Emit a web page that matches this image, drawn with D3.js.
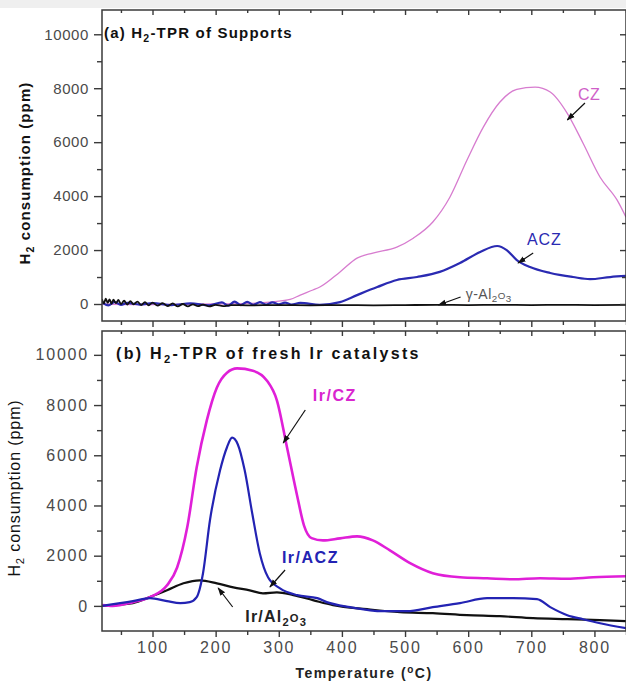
<!DOCTYPE html>
<html>
<head>
<meta charset="utf-8">
<script src="https://cdn.jsdelivr.net/npm/d3@7"></script>
<style>
body{margin:0;background:#fff}
svg{display:block;font-family:Arial,"Liberation Sans",sans-serif}
</style>
</head>
<body>
<div id="chart"></div>
<script>
"use strict";
// (a) supports : [temperature °C, H2 ppm]
const czData = [[20,0],[100,-20],[200,0],[250,20],[270,40],[290,80],[318,170],[334,330],[354,520],[365,630],[397,1190],[424,1700],[449,1890],[487,2110],[513,2440],[544,3040],[571,3960],[598,5330],[624,6560],[650,7480],[677,7960],[706,8040],[730,7860],[757,7070],[782,5960],[809,4700],[836,3850],[850,3220]];
const aczData = [[20,60],[30,-50],[40,80],[50,-30],[60,40],[80,-20],[100,30],[130,-40],[160,20],[190,-50],[210,60],[220,-60],[230,90],[240,-40],[250,80],[260,-30],[270,70],[280,-20],[290,60],[300,-10],[310,50],[320,-20],[334,40],[365,-30],[397,70],[424,330],[456,630],[487,890],[519,1000],[555,1190],[587,1520],[619,1930],[646,2150],[661,2000],[677,1630],[698,1370],[730,1150],[766,1000],[793,920],[825,1000],[850,1040]];
const alData = [[20,180],[23,20],[26,200],[29,40],[32,170],[35,10],[38,160],[42,30],[46,150],[50,0],[55,120],[60,-20],[65,110],[70,-10],[76,90],[82,-40],[88,70],[94,-50],[100,50],[108,-60],[116,30],[124,-80],[132,20],[140,-90],[148,0],[156,-90],[164,-10],[172,-80],[180,-20],[190,-90],[200,-30],[212,-80],[225,-40],[250,-50],[300,-40],[350,-50],[400,-40],[450,-50],[500,-40],[550,-30],[600,-40],[650,-30],[700,-40],[750,-30],[800,-40],[850,-30]];
// (b) fresh Ir catalysts
const irCzData = [[20,30],[37,0],[69,150],[96,350],[123,820],[139,1530],[155,3130],[170,5520],[186,7390],[202,8700],[218,9290],[234,9460],[259,9370],[281,8980],[297,8190],[313,6320],[329,4400],[340,3200],[352,2700],[370,2610],[397,2690],[424,2770],[449,2610],[476,2210],[508,1700],[544,1300],[587,1140],[630,1100],[671,1060],[714,1100],[757,1080],[798,1140],[850,1180]];
const irAczData = [[20,0],[69,190],[96,310],[123,190],[144,110],[159,150],[170,350],[180,1300],[191,3410],[207,5400],[218,6320],[226,6700],[235,6440],[246,5400],[258,3680],[270,2090],[283,1140],[302,700],[329,430],[361,310],[376,150],[413,-50],[465,-210],[503,-210],[544,-50],[587,110],[630,310],[671,310],[709,270],[730,-50],[757,-370],[782,-530],[809,-690],[850,-890]];
const irAlData = [[20,0],[69,110],[96,350],[123,620],[149,900],[175,1020],[202,900],[228,740],[254,620],[275,500],[297,540],[323,430],[354,230],[386,30],[440,-130],[492,-250],[544,-290],[598,-370],[650,-410],[703,-490],[757,-530],[809,-570],[850,-610]];

const xMajor = [100,200,300,400,500,600,700,800];
const xMinor = [50,150,250,350,450,550,650,750,850];
const yMajor = [0,2000,4000,6000,8000,10000];
const yMinor = [1000,3000,5000,7000,9000];

const W = 626, H = 688;
const svg = d3.select("#chart").append("svg").attr("width", W).attr("height", H);
svg.append("rect").attr("width", W).attr("height", 8).attr("fill", "#efefef");

const x = d3.scaleLinear().domain([20, 850]).range([102, 626]);
const line = d3.line().x(d => x(d[0])).curve(d3.curveMonotoneX);

function panel(p) {
    const y = d3.scaleLinear().domain(p.yDomain).range([p.bottom, p.top]);
    const g = svg.append("g");
    const id = "clip" + p.key;
    svg.append("clipPath").attr("id", id).append("rect")
        .attr("x", 102).attr("y", p.top).attr("width", 524).attr("height", p.bottom - p.top);

    // curves
    p.series.forEach(s => {
        g.append("path").datum(s.data)
            .attr("clip-path", `url(#${id})`)
            .attr("d", line.y(d => y(d[1])))
            .attr("fill", "none").attr("stroke", s.color)
            .attr("stroke-width", s.width).attr("stroke-linejoin", "round");
    });

    // axes
    const ax = (a) => a.call(sel => { sel.select(".domain").remove(); sel.selectAll("line").attr("stroke", "#3a3a3a").attr("stroke-width", 1.4); });
    g.append("g").attr("transform", `translate(0,${p.bottom})`)
        .call(d3.axisBottom(x).tickValues(xMajor).tickSize(6).tickPadding(5).tickFormat(p.xLabels ? d3.format("d") : ""))
        .call(ax).call(sel => sel.selectAll("text").attr("fill", "#4a4a4a").attr("font-size", 16).attr("letter-spacing", 1.8).attr("font-family", "Arial"));
    g.append("g").attr("transform", `translate(0,${p.bottom})`)
        .call(d3.axisBottom(x).tickValues(xMinor).tickSize(4).tickFormat("")).call(ax);
    g.append("g").attr("transform", `translate(0,${p.top})`)
        .call(d3.axisBottom(x).tickValues(xMajor).tickSize(5).tickFormat("")).call(ax);
    g.append("g").attr("transform", `translate(0,${p.top})`)
        .call(d3.axisBottom(x).tickValues(xMinor).tickSize(3).tickFormat("")).call(ax);
    g.append("g").attr("transform", `translate(102,0)`)
        .call(d3.axisLeft(y).tickValues(yMajor).tickSize(8).tickPadding(5).tickFormat(d3.format("d")))
        .call(ax).call(sel => sel.selectAll("text").attr("fill", "#4a4a4a").attr("font-size", p.tickFont).attr("letter-spacing", p.tickSpacing).attr("font-family", "Arial"));
    g.append("g").attr("transform", `translate(102,0)`)
        .call(d3.axisLeft(y).tickValues(yMinor).tickSize(5).tickFormat("")).call(ax);
    g.append("g").attr("transform", `translate(626,0)`)
        .call(d3.axisLeft(y).tickValues(yMajor).tickSize(6).tickFormat("")).call(ax);
    g.append("g").attr("transform", `translate(626,0)`)
        .call(d3.axisLeft(y).tickValues(yMinor).tickSize(4).tickFormat("")).call(ax);

    g.append("rect").attr("x", 102).attr("y", p.top).attr("width", 524).attr("height", p.bottom - p.top)
        .attr("fill", "none").attr("stroke", "#3a3a3a").attr("stroke-width", 1.5);

    // title
    const t = g.append("text").attr("x", p.titleX).attr("y", p.titleY)
        .attr("font-weight", "bold").attr("font-size", p.titleSize).attr("letter-spacing", p.titleSpacing).attr("fill", "#111");
    t.append("tspan").text(p.title[0]);
    t.append("tspan").attr("font-size", p.titleSize * 0.7).attr("dy", 4).text("2");
    t.append("tspan").attr("dy", -4).text(p.title[1]);

    // y label
    const yl = g.append("text").attr("transform", `translate(${p.yLabelX},${p.yLabelY}) rotate(-90)`)
        .attr("text-anchor", "middle").attr("font-weight", p.yLabelWeight).attr("font-size", p.yLabelSize)
        .attr("letter-spacing", p.yLabelSpacing).attr("fill", "#111");
    yl.append("tspan").text("H");
    yl.append("tspan").attr("font-size", p.yLabelSize * 0.7).attr("dy", 4).text("2");
    yl.append("tspan").attr("dy", -4).text(" consumption (ppm)");

    // annotations
    p.notes.forEach(n => {
        const tx = g.append("text").attr("x", x(n.at[0])).attr("y", y(n.at[1]))
            .attr("fill", n.color).attr("font-size", n.size).attr("font-weight", n.weight)
            .attr("letter-spacing", n.spacing);
        n.parts.forEach(part => {
            const ts = tx.append("tspan").text(part.t);
            if (part.dy) ts.attr("dy", part.dy).attr("font-size", n.size * 0.7);
        });
        g.append("line")
            .attr("x1", x(n.from[0])).attr("y1", y(n.from[1]))
            .attr("x2", x(n.to[0])).attr("y2", y(n.to[1]))
            .attr("stroke", "#111").attr("stroke-width", 1.2).attr("marker-end", "url(#arrow)");
    });
}

svg.append("defs").append("marker").attr("id", "arrow")
    .attr("viewBox", "0 0 10 10").attr("refX", 9).attr("refY", 5)
    .attr("markerWidth", 7).attr("markerHeight", 7).attr("orient", "auto")
    .append("path").attr("d", "M0,1.5L10,5L0,8.5Z").attr("fill", "#111");

panel({
    key: "a", top: 10, bottom: 321, yDomain: [-630, 10900], xLabels: false,
    tickFont: 15, tickSpacing: 0.6,
    title: ["(a) H", "-TPR of Supports"], titleX: 104, titleY: 38, titleSize: 15, titleSpacing: 1.2,
    yLabelX: 30, yLabelY: 173, yLabelSize: 15, yLabelWeight: "bold", yLabelSpacing: 1.1,
    series: [
        {data: czData, color: "#d77ccf", width: 1.3},
        {data: aczData, color: "#2a2ab2", width: 2.2},
        {data: alData, color: "#111111", width: 1.8}
    ],
    notes: [
        {parts: [{t: "CZ"}], at: [774, 7560], from: [785, 7452], to: [757, 6822], color: "#cf5fc8", size: 16, weight: "normal", spacing: 0.5},
        {parts: [{t: "ACZ"}], at: [693, 2190], from: [703, 1891], to: [679, 1520], color: "#2a2ab2", size: 16, weight: "normal", spacing: 1},
        {parts: [{t: "γ-Al"}, {t: "2", dy: 3}, {t: "O", dy: -3}, {t: "3", dy: 3}], at: [596, 185], from: [588, 260], to: [553, -37], color: "#555", size: 14, weight: "normal", spacing: 0.5}
    ]
});

panel({
    key: "b", top: 331, bottom: 631, yDomain: [-1000, 10950], xLabels: true,
    tickFont: 16, tickSpacing: 1.8,
    title: ["(b) H", "-TPR of fresh Ir catalysts"], titleX: 116, titleY: 359, titleSize: 16, titleSpacing: 2.3,
    yLabelX: 20, yLabelY: 488, yLabelSize: 16, yLabelWeight: "normal", yLabelSpacing: 0.9,
    series: [
        {data: irAlData, color: "#111111", width: 2.2},
        {data: irCzData, color: "#e01fd8", width: 2.6},
        {data: irAczData, color: "#2323b3", width: 2.2}
    ],
    notes: [
        {parts: [{t: "Ir/CZ"}], at: [354, 8160], from: [342, 7803], to: [307, 6489], color: "#d926cf", size: 16, weight: "bold", spacing: 1.5},
        {parts: [{t: "Ir/ACZ"}], at: [305, 1710], from: [310, 1430], to: [286, 753], color: "#2323b3", size: 16, weight: "bold", spacing: 1.5},
        {parts: [{t: "Ir/Al"}, {t: "2", dy: 4}, {t: "O", dy: -4}, {t: "3", dy: 4}], at: [247, -660], from: [227, -44], to: [204, 713], color: "#222", size: 16, weight: "bold", spacing: 1.2}
    ]
});

svg.append("text").attr("x", 364).attr("y", 678).attr("text-anchor", "middle")
    .attr("font-weight", "bold").attr("font-size", 14).attr("letter-spacing", 1.5).attr("fill", "#222")
    .call(t => {
        t.append("tspan").text("Temperature (");
        t.append("tspan").attr("font-size", 10).attr("dy", -5).text("o");
        t.append("tspan").attr("dy", 5).text("C)");
    });
</script>
</body>
</html>
